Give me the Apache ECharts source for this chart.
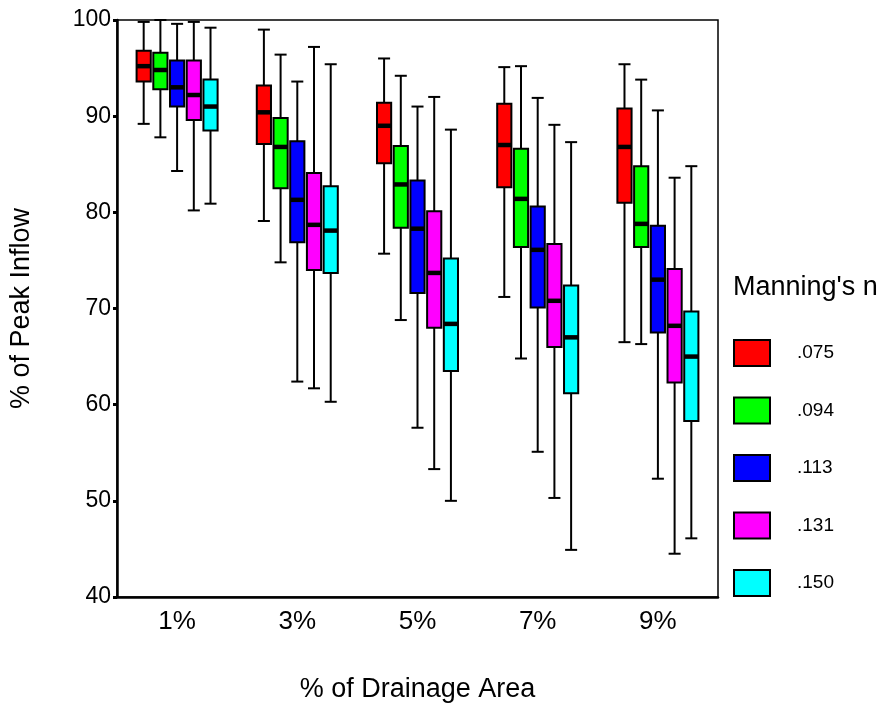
<!DOCTYPE html>
<html><head><meta charset="utf-8">
<script src="https://cdn.jsdelivr.net/npm/echarts@6/dist/echarts.min.js"></script>
<style>html,body{margin:0;padding:0;background:#fff}#c{width:883px;height:708px}</style>
</head><body><div id="c"></div>
<script>
// Categories (% of drainage area)
const categories = ['1%', '3%', '5%', '7%', '9%'];
// Manning's n series names
const seriesNames = ['.075', '.094', '.113', '.131', '.150'];
const seriesColors = ['#ff0000', '#00ff00', '#0000ff', '#ff00ff', '#00ffff'];
// Each entry: [min, q1, median, q3, max] per category
const n075 = [[89.2,93.6,95.2,96.8,99.8],[79.1,87.1,90.4,93.2,99.0],[75.7,85.1,89.0,91.4,96.0],[71.2,82.6,87.0,91.3,95.1],[66.5,81.0,86.8,90.8,95.4]];
const n094 = [[87.8,92.8,94.8,96.6,100.0],[74.8,82.5,86.8,89.8,96.4],[68.8,78.4,82.9,86.9,94.2],[64.8,76.4,81.4,86.6,95.2],[66.3,76.4,78.8,84.8,93.8]];
const n113 = [[84.3,91.0,93.0,95.8,99.6],[62.4,76.9,81.3,87.4,93.6],[57.6,71.6,78.3,83.3,91.0],[55.1,70.1,76.1,80.6,91.9],[52.3,67.5,73.0,78.6,90.6]];
const n131 = [[80.2,89.6,92.2,95.8,99.8],[61.7,74.0,78.7,84.1,97.2],[53.3,68.0,73.7,80.1,92.0],[50.3,66.0,70.8,76.7,89.1],[44.5,62.3,68.2,74.1,83.6]];
const n150 = [[80.9,88.5,91.0,93.8,99.2],[60.3,73.7,78.1,82.7,95.4],[50.0,63.5,68.4,75.2,88.6],[44.9,61.2,67.0,72.4,87.3],[46.1,58.3,65.0,69.7,84.8]];
const yTicks = {min: 40, max: 100, interval: 10};

const allData = [n075, n094, n113, n131, n150];
const FONT = '"Liberation Sans", Arial, sans-serif';

function makeRender(sIdx) {
  return function (params, api) {
    const cat = api.value(0);
    const band = api.size([1, 0])[0];
    const off = (sIdx - 2) * band * 0.139;
    const bw = band * 0.118;
    const cw = band * 0.1;
    const pMin = api.coord([cat, api.value(1)]);
    const pQ1 = api.coord([cat, api.value(2)]);
    const pMed = api.coord([cat, api.value(3)]);
    const pQ3 = api.coord([cat, api.value(4)]);
    const pMax = api.coord([cat, api.value(5)]);
    const x = pMin[0] + off;
    const ls = {stroke: '#000', lineWidth: 2};
    return {
      type: 'group',
      children: [
        {type: 'line', shape: {x1: x, y1: pMax[1], x2: x, y2: pQ3[1]}, style: ls},
        {type: 'line', shape: {x1: x, y1: pQ1[1], x2: x, y2: pMin[1]}, style: ls},
        {type: 'line', shape: {x1: x - cw / 2, y1: pMax[1], x2: x + cw / 2, y2: pMax[1]}, style: ls},
        {type: 'line', shape: {x1: x - cw / 2, y1: pMin[1], x2: x + cw / 2, y2: pMin[1]}, style: ls},
        {type: 'rect', shape: {x: x - bw / 2, y: pQ3[1], width: bw, height: pQ1[1] - pQ3[1]},
          style: {fill: seriesColors[sIdx], stroke: '#000', lineWidth: 2}},
        {type: 'line', shape: {x1: x - bw / 2, y1: pMed[1], x2: x + bw / 2, y2: pMed[1]},
          style: {stroke: '#000', lineWidth: 4.5}}
      ]
    };
  };
}

const series = seriesNames.map(function (name, s) {
  return {
    name: name,
    type: 'custom',
    renderItem: makeRender(s),
    itemStyle: {color: seriesColors[s], borderColor: '#000', borderWidth: 2},
    encode: {x: 0, y: [1, 2, 3, 4, 5]},
    data: allData[s].map(function (d, i) { return [i].concat(d); })
  };
});

const chart = echarts.init(document.getElementById('c'), null, {renderer: 'canvas'});
chart.setOption({
  animation: false,
  backgroundColor: '#fff',
  textStyle: {fontFamily: FONT},
  title: {
    text: "Manning's n", left: 728, top: 269,
    textStyle: {fontFamily: FONT, fontSize: 27, fontWeight: 'normal', color: '#000'}
  },
  legend: {
    orient: 'vertical', left: 728, top: 334,
    itemWidth: 36, itemHeight: 26, itemGap: 29.5,
    icon: 'rect',
    data: seriesNames.map(function (n, s) {
      return {name: n, itemStyle: {color: seriesColors[s], borderColor: '#000', borderWidth: 2}};
    }),
    textStyle: {fontFamily: FONT, fontSize: 19, color: '#000', padding: [0, 0, 0, 22]}
  },
  grid: {left: 117, right: 165, top: 20, bottom: 111, outerBoundsMode: 'none', containLabel: false,
    show: true, borderColor: '#000', borderWidth: 1.5, backgroundColor: 'transparent'},
  xAxis: {
    type: 'category', data: categories, boundaryGap: true,
    name: '% of Drainage Area', nameLocation: 'middle', nameGap: 79.5,
    nameTextStyle: {fontFamily: FONT, fontSize: 27, color: '#000'},
    axisLine: {lineStyle: {color: '#000', width: 2.5}},
    axisTick: {alignWithLabel: true, length: 4, lineStyle: {color: '#000', width: 3}},
    axisLabel: {fontFamily: FONT, fontSize: 26, color: '#000', margin: 12},
    splitLine: {show: false}
  },
  yAxis: {
    type: 'value', min: yTicks.min, max: yTicks.max, interval: yTicks.interval,
    name: '% of Peak Inflow', nameLocation: 'middle', nameGap: 82,
    nameTextStyle: {fontFamily: FONT, fontSize: 27, color: '#000'},
    axisLine: {show: true, lineStyle: {color: '#000', width: 2.5}},
    axisTick: {show: true, length: 4, lineStyle: {color: '#000', width: 3}},
    axisLabel: {fontFamily: FONT, fontSize: 23, color: '#000', margin: 6},
    splitLine: {show: false}
  },
  series: series
});
</script></body></html>
